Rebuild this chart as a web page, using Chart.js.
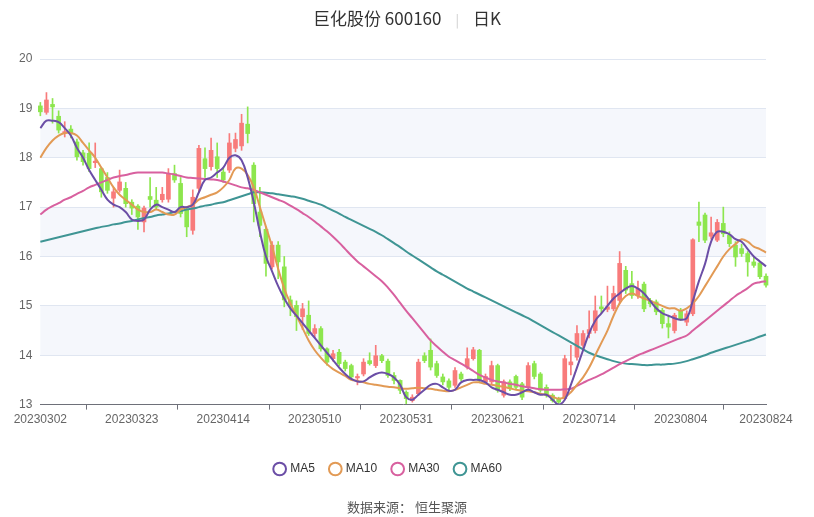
<!DOCTYPE html>
<html>
<head>
<meta charset="utf-8">
<script src="https://cdn.jsdelivr.net/npm/chart.js@4"></script>
<style>
body { margin: 0; background: #fff; font-family: "Noto Sans CJK SC", "Noto Sans", sans-serif; }
#wrap { position: relative; width: 814px; height: 517px; }
#title { position: absolute; top: 5px; width: 814px; text-align: center; font-size: 17px; color: #333; }
#title .sep { color: #ccc; margin: 0 14px; font-size: 13px; }
#source { position: absolute; top: 497px; width: 814px; text-align: center; font-size: 13px; color: #555; }
</style>
</head>
<body>
<div id="wrap">
  <div id="title">巨化股份 600160<span class="sep">|</span>日K</div>
  <canvas id="chart" width="814" height="517"></canvas>
  <div id="source">数据来源： 恒生聚源</div>
</div>
<script>
const dates = [];
const months = [
    ['202303', [2,3,6,7,8,9,10,13,14,15,16,17,20,21,22,23,24,27,28,29,30,31]],
    ['202304', [3,4,6,7,10,11,12,13,14,17,18,19,20,21,24,25,26,27,28]],
    ['202305', [4,5,8,9,10,11,12,15,16,17,18,19,22,23,24,25,26,29,30,31]],
    ['202306', [1,2,5,6,7,8,9,12,13,14,15,16,19,20,21,26,27,28,29,30]],
    ['202307', [3,4,5,6,7,10,11,12,13,14,17,18,19,20,21,24,25,26,27,28,31]],
    ['202308', [1,2,3,4,7,8,9,10,11,14,15,16,17,18,21,22,23,24]]
];
months.forEach(([m, days]) => days.forEach(d => dates.push(m + String(d).padStart(2, '0'))));

const opens = [19.05,18.92,19.08,18.84,18.5,18.58,18.32,18.1,18.09,17.9,17.78,17.6,17.18,17.34,17.38,17.1,17.02,16.7,17.2,17.14,
    17.15,17.16,17.68,17.48,16.94,16.53,17.38,17.98,17.82,18.02,17.71,17.75,18.19,18.24,18.68,17.85,16.9,16.55,15.79,16.23,
    15.79,15.12,15.01,14.78,14.81,14.44,14.54,14.13,13.93,14.06,13.86,13.79,13.54,13.62,13.89,13.79,13.99,13.88,13.59,13.49,
    13.25,13.08,13.22,13.99,14.1,13.83,13.56,13.48,13.39,13.62,13.76,13.93,14.1,13.46,13.46,13.79,13.19,13.46,13.57,13.42,
    13.35,13.83,13.62,13.35,13.19,13.12,13.12,13.82,13.96,14.2,14.44,14.5,14.98,14.93,14.94,15.11,15.72,15.45,15.21,15.44,
    15.11,15.08,14.91,14.64,14.5,14.91,14.67,14.84,16.7,16.84,16.41,16.33,16.67,16.43,16.23,16.16,16.06,15.89,15.87,15.6];
const closes = [18.93,19.17,19.03,18.56,18.53,18.49,18.02,17.92,17.78,17.93,17.31,17.34,17.31,17.51,17.07,16.98,16.8,16.98,17.17,17.0,
    17.26,17.68,17.55,16.87,16.6,17.2,18.19,17.78,18.15,17.78,17.55,18.3,18.37,18.7,18.49,17.07,16.63,15.86,16.23,15.89,
    15.12,14.98,14.78,14.94,14.44,14.54,14.13,13.86,14.03,13.83,13.73,13.56,13.57,13.86,13.83,13.99,13.89,13.59,13.49,13.29,
    13.12,13.15,13.86,13.89,13.76,13.59,13.46,13.35,13.69,13.52,13.93,14.11,13.49,13.57,13.79,13.29,13.46,13.32,13.35,13.15,
    13.79,13.57,13.29,13.19,13.08,13.05,13.93,13.85,14.44,14.44,14.52,14.9,14.94,14.98,15.25,15.86,15.32,15.21,15.35,14.94,
    15.04,14.88,14.64,14.57,14.81,14.74,14.84,16.34,16.63,16.33,16.48,16.69,16.46,16.26,15.99,16.06,15.89,15.82,15.59,15.42];
const highs = [19.12,19.32,19.2,18.95,18.73,18.65,18.38,18.15,18.3,18.3,17.8,17.7,17.4,17.75,17.5,17.15,17.05,17.02,17.6,17.4,
    17.4,17.78,17.85,17.6,17.0,17.35,18.25,18.2,18.4,18.3,17.8,18.49,18.5,18.88,19.03,17.9,17.4,16.6,16.3,16.3,
    16.0,15.2,15.1,15.05,15.1,14.62,14.58,14.15,14.1,14.12,13.9,13.82,13.62,13.93,14.05,14.2,14.02,13.92,13.65,13.5,
    13.28,13.2,13.92,14.05,14.33,13.88,13.62,13.52,13.75,13.66,14.15,14.16,14.12,13.62,13.88,13.82,13.5,13.5,13.6,13.45,
    13.85,13.88,13.65,13.4,13.22,13.15,14.0,14.2,14.6,14.5,14.9,15.2,15.2,15.4,15.4,16.1,15.8,15.7,15.5,15.48,
    15.15,15.12,14.95,14.8,14.85,14.95,14.9,16.36,17.1,16.88,16.8,16.75,17.0,16.5,16.3,16.25,16.1,16.0,15.9,15.65];
const lows = [18.85,18.88,18.7,18.5,18.42,18.4,17.95,17.85,17.72,17.8,17.2,17.28,17.0,17.3,17.0,16.85,16.55,16.5,17.0,16.95,
    17.1,17.1,17.5,16.8,16.4,16.45,17.3,17.6,17.75,17.6,17.5,17.7,18.12,18.15,18.3,16.7,16.4,15.6,15.75,15.55,
    14.98,14.8,14.5,14.52,14.4,14.35,14.08,13.8,13.88,13.78,13.68,13.5,13.4,13.58,13.8,13.75,13.85,13.55,13.42,13.22,
    13.02,13.05,13.18,13.85,13.7,13.55,13.4,13.3,13.35,13.48,13.72,13.9,13.45,13.42,13.42,13.25,13.15,13.28,13.3,13.1,
    13.3,13.52,13.25,13.15,13.05,13.02,13.1,13.6,13.9,14.1,14.35,14.45,14.85,14.88,14.9,15.05,15.25,15.15,15.15,14.88,
    14.98,14.82,14.55,14.35,14.45,14.7,14.6,14.8,16.3,16.28,16.35,16.3,16.4,16.2,15.8,16.0,15.6,15.78,15.55,15.38];

const ma5 = [18.6,18.75,18.75,18.72,18.6,18.45,18.2,18.0,17.75,17.55,17.35,17.15,17.05,17.0,16.9,16.75,16.72,16.75,16.95,17.05,
    17.0,16.95,16.9,17.0,17.0,17.05,17.3,17.55,17.6,17.7,17.8,18.0,18.05,17.95,17.6,17.1,16.5,16.0,15.7,15.4,
    15.15,14.95,14.8,14.65,14.5,14.35,14.2,14.05,13.9,13.75,13.62,13.52,13.47,13.47,13.55,13.62,13.65,13.62,13.55,13.4,
    13.15,13.1,13.2,13.3,13.4,13.42,13.35,13.28,13.3,13.45,13.5,13.5,13.5,13.45,13.35,13.3,13.25,13.2,13.2,13.25,
    13.3,13.25,13.2,13.2,13.1,13.0,13.1,13.4,13.75,14.1,14.45,14.7,14.85,15.0,15.15,15.25,15.35,15.4,15.35,15.25,
    15.1,14.95,14.85,14.8,14.75,14.72,14.75,15.1,15.5,15.85,16.3,16.5,16.5,16.45,16.35,16.3,16.15,16.0,15.9,15.8];
const ma10 = [18.0,18.2,18.35,18.45,18.5,18.5,18.45,18.3,18.15,18.0,17.8,17.6,17.4,17.25,17.15,17.05,16.95,16.9,16.9,16.95,
    16.9,16.85,16.85,16.95,17.0,17.05,17.15,17.2,17.25,17.3,17.4,17.55,17.78,17.78,17.65,17.4,17.0,16.6,16.2,15.75,
    15.35,15.05,14.8,14.55,14.3,14.1,13.95,13.82,13.72,13.65,13.58,13.5,13.48,13.45,13.42,13.4,13.38,13.36,13.35,13.33,
    13.32,13.33,13.34,13.33,13.32,13.3,13.28,13.27,13.3,13.35,13.4,13.45,13.45,13.42,13.4,13.38,13.36,13.33,13.3,13.28,
    13.27,13.25,13.22,13.2,13.16,13.12,13.15,13.25,13.4,13.55,13.75,14.0,14.25,14.5,14.8,15.05,15.2,15.25,15.2,15.15,
    15.1,15.05,15.0,14.95,14.95,14.9,14.95,15.05,15.2,15.4,15.6,15.8,16.0,16.15,16.25,16.35,16.3,16.2,16.15,16.08];
const ma30 = [16.85,16.95,17.02,17.08,17.15,17.2,17.27,17.33,17.4,17.45,17.5,17.55,17.6,17.63,17.65,17.68,17.7,17.7,17.7,17.7,
    17.7,17.68,17.66,17.63,17.6,17.59,17.58,17.57,17.56,17.55,17.52,17.48,17.44,17.4,17.38,17.35,17.3,17.25,17.2,17.15,
    17.1,17.03,16.96,16.88,16.8,16.71,16.61,16.51,16.4,16.28,16.15,16.02,15.9,15.8,15.7,15.6,15.5,15.37,15.22,15.06,
    14.9,14.75,14.6,14.45,14.3,14.18,14.07,13.97,13.9,13.83,13.76,13.68,13.6,13.55,13.5,13.47,13.45,13.42,13.4,13.37,
    13.35,13.33,13.31,13.3,13.3,13.3,13.31,13.32,13.38,13.44,13.5,13.55,13.61,13.68,13.75,13.82,13.88,13.94,14.0,14.05,
    14.1,14.15,14.2,14.25,14.3,14.35,14.4,14.5,14.6,14.7,14.8,14.9,15.0,15.1,15.2,15.28,15.36,15.45,15.48,15.5];
const ma60 = [16.3,16.33,16.36,16.39,16.42,16.45,16.48,16.51,16.54,16.57,16.6,16.62,16.65,16.67,16.7,16.72,16.75,16.78,16.8,16.83,
    16.85,16.87,16.9,16.92,16.95,16.97,17.0,17.03,17.05,17.08,17.1,17.14,17.18,17.22,17.26,17.3,17.3,17.29,17.28,17.26,
    17.24,17.22,17.2,17.17,17.13,17.09,17.05,16.99,16.93,16.87,16.8,16.74,16.68,16.62,16.56,16.5,16.43,16.35,16.27,16.19,
    16.1,16.02,15.94,15.86,15.78,15.7,15.63,15.56,15.49,15.42,15.35,15.29,15.23,15.17,15.11,15.05,14.99,14.93,14.87,14.81,
    14.75,14.68,14.61,14.54,14.47,14.4,14.33,14.26,14.19,14.12,14.05,14.0,13.96,13.92,13.88,13.85,13.83,13.82,13.81,13.8,
    13.8,13.81,13.81,13.82,13.83,13.85,13.88,13.92,13.96,14.0,14.05,14.09,14.13,14.17,14.21,14.25,14.29,14.33,14.38,14.42];

const UP = '#f87b7b', DOWN = '#8de64e';
const colors = opens.map((o, i) => closes[i] >= o ? UP : DOWN);

// alternating light bands behind the plot
const bands = {
    id: 'bands',
    beforeDraw(chart) {
        const { ctx, chartArea, scales: { y } } = chart;
        ctx.save();
        ctx.fillStyle = '#f5f7fc';
        [[18, 19], [16, 17], [14, 15]].forEach(([a, b]) => {
            ctx.fillRect(chartArea.left, y.getPixelForValue(b), chartArea.width,
                y.getPixelForValue(a) - y.getPixelForValue(b));
        });
        ctx.restore();
    }
};

function maLine(label, data, color) {
    return {
        type: 'line', label, data, borderColor: color, backgroundColor: '#fff',
        borderWidth: 2, pointRadius: 0, tension: 0.4, order: 0
    };
}

new Chart(document.getElementById('chart'), {
    data: {
        labels: dates,
        datasets: [
            maLine('MA5', ma5, '#6b4ea6'),
            maLine('MA10', ma10, '#e29a55'),
            maLine('MA30', ma30, '#d8609f'),
            maLine('MA60', ma60, '#3f9594'),
            {
                type: 'bar', label: 'wick', data: lows.map((l, i) => [l, highs[i]]),
                backgroundColor: colors, barThickness: 1, grouped: false, order: 2, clip: false
            },
            {
                type: 'bar', label: 'body',
                data: opens.map((o, i) => Math.abs(closes[i] - o) < 0.03
                    ? [Math.min(o, closes[i]) - 0.015, Math.max(o, closes[i]) + 0.015]
                    : [o, closes[i]]),
                backgroundColor: colors, barThickness: 4, grouped: false, order: 1, clip: false
            }
        ]
    },
    options: {
        responsive: false,
        animation: false,
        layout: { padding: { top: 59, left: 11, right: 48, bottom: 32 } },
        plugins: {
            tooltip: { enabled: false },
            legend: {
                position: 'bottom',
                labels: {
                    filter: item => item.text.startsWith('MA'),
                    usePointStyle: true, pointStyle: 'circle', boxWidth: 9, boxHeight: 9,
                    padding: 16, color: '#333', font: { size: 12 }
                }
            }
        },
        scales: {
            x: {
                offset: false,
                grid: { drawOnChartArea: false, tickLength: 5, color: '#6e7079' },
                border: { color: '#6e7079' },
                ticks: {
                    autoSkip: false, maxRotation: 0, color: '#666', font: { size: 12 },
                    callback: (v, i) => (i % 15 === 0 || i === dates.length - 1) ? dates[i] : null
                },
                afterTickToLabelConversion(axis) {
                    axis.ticks = axis.ticks.filter(t => t.label !== null);
                },
                afterFit(axis) {
                    axis.height += 17;
                }
            },
            y: {
                min: 13, max: 20,
                ticks: { stepSize: 1, color: '#666', font: { size: 12 }, padding: 8 },
                grid: { color: '#e0e6f1', drawTicks: false },
                border: { display: false }
            }
        }
    },
    plugins: [bands]
});
</script>
</body>
</html>
